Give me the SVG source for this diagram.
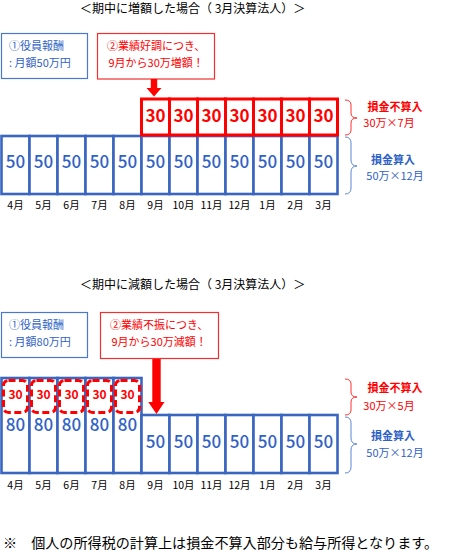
<svg xmlns="http://www.w3.org/2000/svg" width="455" height="552" viewBox="0 0 455 552">
<style>
text{font-family:"Noto Sans CJK JP","Liberation Sans",sans-serif;}
.title{font-size:12px;fill:#000;}
.bbox{fill:#fff;stroke:#4A78CC;stroke-width:1.2;}
.rbox{fill:#fff;stroke:#F23030;stroke-width:1.2;}
.bt{font-size:11px;fill:#2F62C6;}
.rt{font-size:11px;fill:#FF0000;}
.cell{fill:#fff;stroke:#3A66C0;stroke-width:2.6;}
.rcell{fill:#fff;stroke:#FF0000;stroke-width:3;}
.dash{fill:none;stroke:#FF0000;stroke-width:3;stroke-dasharray:7 3.5;}
.n50{font-size:17px;fill:#2F62C6;text-anchor:middle;font-weight:500;}
.n30{font-size:17px;fill:#FF0000;text-anchor:middle;font-weight:bold;}
.s30{font-size:12px;fill:#FF0000;text-anchor:middle;font-weight:bold;}
.mon{font-size:10.5px;fill:#000;text-anchor:middle;}
.lr{font-size:11px;fill:#FF0000;text-anchor:middle;}
.lb{font-size:11px;fill:#2F62C6;text-anchor:middle;}
.b{font-weight:bold;}
.br{fill:none;stroke:#FF3030;stroke-width:1;}
.bb{fill:none;stroke:#5A86D6;stroke-width:1;}
</style>

<!-- ===== Top section ===== -->
<g id="title-top"><text class="title" x="80" y="13">＜期中に増額した場合（ 3月決算法人）＞</text></g>

<g id="box1-top">
<rect class="bbox" x="1.5" y="33.5" width="86" height="45"/>
<text class="bt" x="9" y="50">①役員報酬</text>
<text class="bt" x="9" y="67">:  月額50万円</text>
</g>
<g id="box2-top">
<rect class="rbox" x="97.5" y="33.5" width="117" height="45.5"/>
<text class="rt" x="107" y="50">②業績好調につき、</text>
<text class="rt" x="108.5" y="67">9月から30万増額！</text>
</g>

<g id="connectors">
<polygon fill="#FF0000" points="150.8,79 157.2,79 157.2,88 161.5,88 154,96.5 146.5,88 150.8,88"/>
<polygon fill="#FF0000" points="152.3,358 160.7,358 160.7,402 164.5,402 156.5,414 148.3,402 152.3,402"/>
</g>

<g id="cells-top-blue">
<rect class="cell" x="1.5" y="136" width="28" height="58"/>
<rect class="cell" x="29.5" y="136" width="28" height="58"/>
<rect class="cell" x="57.5" y="136" width="28" height="58"/>
<rect class="cell" x="85.5" y="136" width="28" height="58"/>
<rect class="cell" x="113.5" y="136" width="28" height="58"/>
<rect class="cell" x="141.5" y="136" width="28" height="58"/>
<rect class="cell" x="169.5" y="136" width="28" height="58"/>
<rect class="cell" x="197.5" y="136" width="28" height="58"/>
<rect class="cell" x="225.5" y="136" width="28" height="58"/>
<rect class="cell" x="253.5" y="136" width="28" height="58"/>
<rect class="cell" x="281.5" y="136" width="28" height="58"/>
<rect class="cell" x="309.5" y="136" width="28" height="58"/>
<text class="n50" x="15.5" y="168">50</text>
<text class="n50" x="43.5" y="168">50</text>
<text class="n50" x="71.5" y="168">50</text>
<text class="n50" x="99.5" y="168">50</text>
<text class="n50" x="127.5" y="168">50</text>
<text class="n50" x="155.5" y="168">50</text>
<text class="n50" x="183.5" y="168">50</text>
<text class="n50" x="211.5" y="168">50</text>
<text class="n50" x="239.5" y="168">50</text>
<text class="n50" x="267.5" y="168">50</text>
<text class="n50" x="295.5" y="168">50</text>
<text class="n50" x="323.5" y="168">50</text>
</g>

<g id="cells-top-red">
<rect class="rcell" x="141.5" y="99" width="28" height="36"/>
<rect class="rcell" x="169.5" y="99" width="28" height="36"/>
<rect class="rcell" x="197.5" y="99" width="28" height="36"/>
<rect class="rcell" x="225.5" y="99" width="28" height="36"/>
<rect class="rcell" x="253.5" y="99" width="28" height="36"/>
<rect class="rcell" x="281.5" y="99" width="28" height="36"/>
<rect class="rcell" x="309.5" y="99" width="28" height="36"/>
<text class="n30" x="155.5" y="122">30</text>
<text class="n30" x="183.5" y="122">30</text>
<text class="n30" x="211.5" y="122">30</text>
<text class="n30" x="239.5" y="122">30</text>
<text class="n30" x="267.5" y="122">30</text>
<text class="n30" x="295.5" y="122">30</text>
<text class="n30" x="323.5" y="122">30</text>
</g>

<g id="months-top">
<text class="mon" x="15.5" y="209">4月</text>
<text class="mon" x="43.5" y="209">5月</text>
<text class="mon" x="71.5" y="209">6月</text>
<text class="mon" x="99.5" y="209">7月</text>
<text class="mon" x="127.5" y="209">8月</text>
<text class="mon" x="155.5" y="209">9月</text>
<text class="mon" x="183.5" y="209">10月</text>
<text class="mon" x="211.5" y="209">11月</text>
<text class="mon" x="239.5" y="209">12月</text>
<text class="mon" x="267.5" y="209">1月</text>
<text class="mon" x="295.5" y="209">2月</text>
<text class="mon" x="323.5" y="209">3月</text>
</g>

<g id="brace-top-red">
<path class="br" d="M345,100 Q351,100 351,105 L351,113 Q351,118 357,118 Q351,118 351,123 L351,130 Q351,135 345,135"/>
<text class="lr b" x="395" y="111">損金不算入</text>
<text class="lr" x="389" y="127">30万×7月</text>
</g>
<g id="brace-top-blue">
<path class="bb" d="M345,137 Q351,137 351,143 L351,160 Q351,166 357,166 Q351,166 351,172 L351,188 Q351,194 345,194"/>
<text class="lb b" x="393" y="164">損金算入</text>
<text class="lb" x="395" y="180">50万×12月</text>
</g>

<!-- ===== Bottom section ===== -->
<g id="title-bottom"><text class="title" x="80" y="289">＜期中に減額した場合（ 3月決算法人）＞</text></g>

<g id="box1-bottom">
<rect class="bbox" x="1.5" y="312.5" width="86" height="45"/>
<text class="bt" x="9" y="329">①役員報酬</text>
<text class="bt" x="9" y="346">:  月額80万円</text>
</g>
<g id="box2-bottom">
<rect class="rbox" x="100.5" y="312.5" width="118" height="46"/>
<text class="rt" x="110" y="329">②業績不振につき、</text>
<text class="rt" x="111.5" y="346">9月から30万減額！</text>
</g>

<g id="cells-bottom-left">
<rect class="cell" x="1.5" y="378" width="28" height="95"/>
<rect class="cell" x="29.5" y="378" width="28" height="95"/>
<rect class="cell" x="57.5" y="378" width="28" height="95"/>
<rect class="cell" x="85.5" y="378" width="28" height="95"/>
<rect class="cell" x="113.5" y="378" width="28" height="95"/>
<rect class="dash" x="3.5" y="380.5" width="24" height="32" rx="5"/>
<rect class="dash" x="31.5" y="380.5" width="24" height="32" rx="5"/>
<rect class="dash" x="59.5" y="380.5" width="24" height="32" rx="5"/>
<rect class="dash" x="87.5" y="380.5" width="24" height="32" rx="5"/>
<rect class="dash" x="115.5" y="380.5" width="24" height="32" rx="5"/>
<text class="s30" x="15.5" y="398.5">30</text>
<text class="s30" x="43.5" y="398.5">30</text>
<text class="s30" x="71.5" y="398.5">30</text>
<text class="s30" x="99.5" y="398.5">30</text>
<text class="s30" x="127.5" y="398.5">30</text>
<text class="n50" x="15.5" y="431">80</text>
<text class="n50" x="43.5" y="431">80</text>
<text class="n50" x="71.5" y="431">80</text>
<text class="n50" x="99.5" y="431">80</text>
<text class="n50" x="127.5" y="431">80</text>
</g>

<g id="cells-bottom-right">
<rect class="cell" x="141.5" y="415" width="28" height="58"/>
<rect class="cell" x="169.5" y="415" width="28" height="58"/>
<rect class="cell" x="197.5" y="415" width="28" height="58"/>
<rect class="cell" x="225.5" y="415" width="28" height="58"/>
<rect class="cell" x="253.5" y="415" width="28" height="58"/>
<rect class="cell" x="281.5" y="415" width="28" height="58"/>
<rect class="cell" x="309.5" y="415" width="28" height="58"/>
<text class="n50" x="155.5" y="448">50</text>
<text class="n50" x="183.5" y="448">50</text>
<text class="n50" x="211.5" y="448">50</text>
<text class="n50" x="239.5" y="448">50</text>
<text class="n50" x="267.5" y="448">50</text>
<text class="n50" x="295.5" y="448">50</text>
<text class="n50" x="323.5" y="448">50</text>
</g>

<g id="months-bottom">
<text class="mon" x="15.5" y="489">4月</text>
<text class="mon" x="43.5" y="489">5月</text>
<text class="mon" x="71.5" y="489">6月</text>
<text class="mon" x="99.5" y="489">7月</text>
<text class="mon" x="127.5" y="489">8月</text>
<text class="mon" x="155.5" y="489">9月</text>
<text class="mon" x="183.5" y="489">10月</text>
<text class="mon" x="211.5" y="489">11月</text>
<text class="mon" x="239.5" y="489">12月</text>
<text class="mon" x="267.5" y="489">1月</text>
<text class="mon" x="295.5" y="489">2月</text>
<text class="mon" x="323.5" y="489">3月</text>
</g>

<g id="brace-bottom-red">
<path class="br" d="M345,379 Q351,379 351,384 L351,392 Q351,397 357,397 Q351,397 351,402 L351,410 Q351,415 345,415"/>
<text class="lr b" x="395" y="392">損金不算入</text>
<text class="lr" x="389" y="410">30万×5月</text>
</g>
<g id="brace-bottom-blue">
<path class="bb" d="M345,417 Q351,417 351,423 L351,438 Q351,444 357,444 Q351,444 351,450 L351,467 Q351,473 345,473"/>
<text class="lb b" x="393" y="440">損金算入</text>
<text class="lb" x="395" y="457">50万×12月</text>
</g>

<g id="footer"><text x="3" y="548" style="font-size:14.1px;fill:#000;">※　個人の所得税の計算上は損金不算入部分も給与所得となります。</text></g>
</svg>
